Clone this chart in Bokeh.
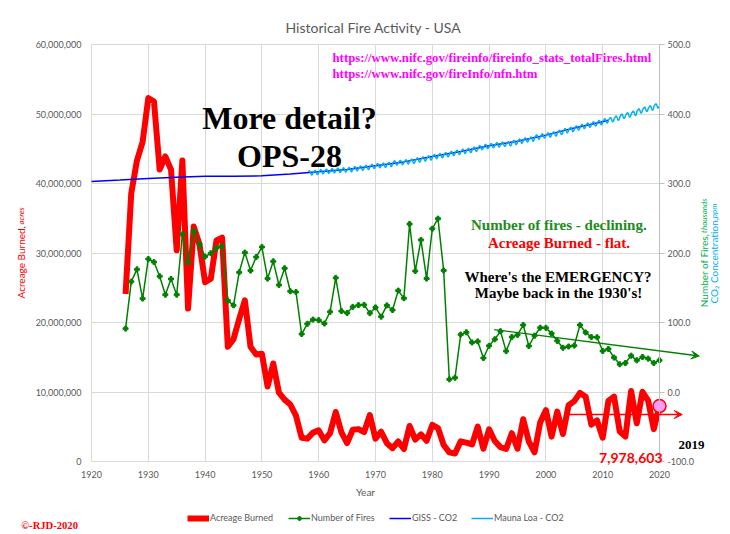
from math import pi
from bokeh.plotting import figure
from bokeh.models import (Range1d, LinearAxis, FixedTicker, NumeralTickFormatter, Label,
                          Arrow, VeeHead, Legend, LegendItem)
from bokeh.embed import file_html
from bokeh.resources import INLINE

# ---------------- data ----------------
years = list(range(1926, 2021))
acres_m = [24.1, 38.6, 43.3, 46.0, 52.3, 51.8, 42.0, 43.9, 42.0, 30.4,
           43.3, 22.0, 33.8, 31.3, 25.8, 26.3, 31.8, 32.2, 16.5, 17.6,
           20.5, 23.2, 16.5, 15.4, 15.5, 10.8, 14.1, 9.9, 8.9, 8.2,
           6.6, 3.41, 3.29, 4.16, 4.48, 3.04, 4.08, 7.12, 4.20, 2.65,
           4.57, 4.66, 4.23, 6.69, 3.28, 4.28, 2.64, 1.92, 2.88, 1.79,
           5.11, 3.15, 3.91, 2.99, 5.26, 4.81, 2.38, 1.32, 1.15, 2.90,
           2.72, 2.45, 5.01, 1.83, 4.62, 2.95, 2.07, 1.80, 4.07, 1.84,
           6.07, 2.86, 1.33, 5.63, 7.39, 3.57, 7.18, 3.96, 8.10, 8.69,
           9.87, 9.33, 5.29, 5.92, 3.42, 8.71, 9.33, 4.32, 3.60, 10.13,
           5.51, 10.03, 8.77, 4.66, 7.978603]
acres = [round(v * 1e6) for v in acres_m]
fires_k = [91.2, 158.8, 176.5, 134.4, 191.4, 187.0, 166.5, 140.0, 162.6, 140.0,
           226.9, 186.6, 231.7, 212.5, 194.8, 199.6, 207.2, 210.1, 131.5, 124.7,
           172.2, 200.6, 174.7, 194.2, 208.6, 163.2, 188.0, 154.0, 178.0, 144.9,
           143.9, 83.4, 98.1, 104.2, 103.4, 98.5, 115.3, 164.2, 116.4, 113.7,
           122.5, 125.0, 125.4, 113.4, 121.7, 108.4, 124.6, 118.0, 145.9, 134.9,
           241.7, 174.0, 218.8, 163.2, 234.9, 249.4, 174.8, 18.2, 20.5, 82.6,
           85.9, 71.3, 72.8, 48.9, 66.5, 75.8, 87.4, 58.8, 79.1, 82.2,
           96.4, 66.2, 81.0, 92.5, 92.3, 84.1, 73.5, 63.6, 65.5, 66.8,
           96.4, 85.7, 79.0, 78.8, 59.0, 61.9, 49.5, 39.9, 41.7, 52.3,
           45.6, 50.4, 48.0, 41.7, 45.6]
giss_years = [1920, 1925, 1930, 1935, 1940, 1945, 1950, 1955, 1960, 1965,
              1970, 1975, 1980, 1985, 1990, 1995, 2000, 2005, 2010, 2011]
giss_co2 = [303.0, 305.0, 307.2, 309.0, 310.5, 310.3, 311.0, 313.5, 316.9, 320.0,
            325.7, 331.1, 338.7, 346.0, 354.2, 360.8, 369.6, 379.8, 389.0, 390.9]
ml_years = list(range(1958, 2020))
ml_annual = [315.3, 315.98, 316.91, 317.64, 318.45, 318.99, 319.62, 320.04, 321.38, 322.16,
             323.04, 324.62, 325.68, 326.32, 327.46, 329.68, 330.19, 331.12, 332.03, 333.84,
             335.41, 336.84, 338.76, 340.12, 341.48, 343.15, 344.85, 346.35, 347.61, 349.31,
             351.69, 353.20, 354.45, 355.70, 356.54, 357.21, 358.96, 360.97, 362.74, 363.88,
             366.84, 368.54, 369.71, 371.32, 373.45, 375.98, 377.70, 379.98, 382.09, 384.02,
             385.83, 387.64, 390.10, 391.85, 394.06, 396.74, 398.81, 401.01, 404.41, 406.76,
             408.72, 411.66]
ml_seasonal = [0.0, 0.6, 1.3, 2.6, 3.1, 2.4, 0.9, -1.2, -2.9, -3.2, -2.0, -0.8]
x_ticks = list(range(1920, 2021, 10))
left_ticks = [0, 10e6, 20e6, 30e6, 40e6, 50e6, 60e6]
right_ticks = [-100, 0, 100, 200, 300, 400, 500]
trend_years = [1990.9, 2027.0]
trend_fires = [89.8, 51.8]
flat_years = [2004.0, 2024.0]
flat_acres = 6.76e6

ml_t, ml_v = [], []
for yr, mean in zip(ml_years, ml_annual):
    for m, s in enumerate(ml_seasonal):
        if yr == 1958 and m < 2:
            continue
        ml_t.append(yr + (m + 0.5) / 12)
        ml_v.append(mean + s)

# ---------------- layout helpers (page pixel -> data) ----------------
W, H = 730, 534
PXL, PXR = 91, 659     # page x of 1920 and 2020
PYB, PYT = 461, 44     # page y of 0 and 60,000,000 (also -100 and 500 on right)

def X(px):
    return 1920 + (px - PXL) * 100 / (PXR - PXL)

def Y(py):
    return (PYB - py) * 60e6 / (PYB - PYT)

def R(py):
    return -100 + (PYB - py) * 600 / (PYB - PYT)

GRAY = "#595959"
SANS = "Lato"
SERIF = "Liberation Serif"

# frame covers the whole canvas so texts/arrows outside the data area are not clipped;
# axes are pinned to the data area with fixed_location
p = figure(frame_width=W, frame_height=H,
           x_range=Range1d(X(0), X(W)), y_range=Range1d(Y(H), Y(0)),
           output_backend="svg", toolbar_location=None,
           min_border=0, min_border_left=0, min_border_right=0, min_border_top=0, min_border_bottom=0,
           background_fill_color="white", border_fill_color="white", outline_line_color=None)
p.extra_y_ranges = {"right": Range1d(R(H), R(0))}

# axes
xa = p.xaxis[0]
xa.fixed_location = 0
xa.ticker = FixedTicker(ticks=x_ticks)
xa.axis_line_color = None
xa.major_tick_line_color = None
xa.major_tick_in = 0
xa.major_tick_out = 0
xa.minor_tick_line_color = None
xa.minor_tick_in = 0
xa.minor_tick_out = 0
xa.major_label_standoff = 9
xa.major_label_text_font = SANS
xa.major_label_text_font_size = "9px"
xa.major_label_text_color = GRAY
xa.axis_label = "Year"
xa.axis_label_text_font = SANS
xa.axis_label_text_font_style = "normal"
xa.axis_label_text_font_size = "10px"
xa.axis_label_text_color = GRAY
xa.axis_label_standoff = 5

ya = p.yaxis[0]
ya.fixed_location = 1920
ya.ticker = FixedTicker(ticks=left_ticks)
ya.formatter = NumeralTickFormatter(format="0,0")
ya.axis_line_color = None
ya.major_tick_line_color = None
ya.major_tick_in = 0
ya.major_tick_out = 0
ya.minor_tick_line_color = None
ya.minor_tick_in = 0
ya.minor_tick_out = 0
ya.major_label_standoff = 10
ya.major_label_text_font = SANS
ya.major_label_text_font_size = "9px"
ya.major_label_text_color = GRAY

ra = LinearAxis(y_range_name="right", ticker=FixedTicker(ticks=right_ticks),
                formatter=NumeralTickFormatter(format="0.0"),
                fixed_location=2020, bounds=(right_ticks[0], right_ticks[-1]))
ra.axis_line_color = "#bfbfbf"
ra.major_tick_line_color = "#bfbfbf"
ra.major_tick_in = 0
ra.major_tick_out = 5
ra.minor_tick_line_color = None
ra.minor_tick_in = 0
ra.minor_tick_out = 0
ra.major_label_standoff = 3
ra.major_label_text_font = SANS
ra.major_label_text_font_size = "9px"
ra.major_label_text_color = GRAY
p.add_layout(ra, "right")

p.xgrid.ticker = FixedTicker(ticks=x_ticks)
p.ygrid.ticker = FixedTicker(ticks=left_ticks)
p.xgrid.cross_bounds = (left_ticks[0], left_ticks[-1])
p.ygrid.cross_bounds = (x_ticks[0], x_ticks[-1])
p.xgrid.grid_line_color = "#d9d9d9"
p.ygrid.grid_line_color = "#d9d9d9"

# series
r_red = p.line(years, acres, line_color="#ff0000", line_width=6, line_join="round")
r_gl = p.line(years, fires_k, y_range_name="right", line_color="#008000", line_width=1.5)
r_gp = p.scatter(years, fires_k, y_range_name="right", marker="plus", size=5, color="#008000")
r_blue = p.line(giss_years, giss_co2, y_range_name="right", line_color="#0000ff", line_width=1.5)
r_cyan = p.line(ml_t, ml_v, y_range_name="right", line_color="#00b0f0", line_width=1.5)

# arrows
p.add_layout(Arrow(x_start=trend_years[0], y_start=trend_fires[0], x_end=trend_years[1], y_end=trend_fires[1],
                   y_range_name="right", line_color="#008000", line_width=1.3,
                   end=VeeHead(size=8, fill_color="#008000", line_color="#008000", line_width=1)))
p.add_layout(Arrow(x_start=flat_years[0], y_start=flat_acres, x_end=flat_years[1], y_end=flat_acres,
                   line_color="#ff0000", line_width=1.3,
                   end=VeeHead(size=8, fill_color="#ff0000", line_color="#ff0000", line_width=1)))

def lab(text, px, py, size, color, font=SERIF, style="bold", align="left",
        baseline="alphabetic", angle=0.0):
    p.add_layout(Label(x=X(px), y=Y(py), text=text,
                       text_font=font, text_font_style=style, text_font_size=size,
                       text_color=color, text_align=align, text_baseline=baseline, angle=angle))

# title
lab("Historical Fire Activity - USA", 373, 27, "14px", GRAY, font=SANS, style="normal", align="center")
# urls
lab("https://www.nifc.gov/fireinfo/fireinfo_stats_totalFires.html", 332, 57, "12.8px", "#ff00ff")
lab("https://www.nifc.gov/fireInfo/nfn.htm", 332, 73, "12.8px", "#ff00ff")
# big text
lab("More detail?", 289, 117, "32px", "black", align="center")
lab("OPS-28", 289, 155, "32px", "black", align="center")
# notes
lab("Number of fires - declining.", 558.5, 224, "15px", "#228b22", align="center")
lab("Acreage Burned - flat.", 558.5, 242, "15px", "#ff0000", align="center")
lab("Where's the EMERGENCY?", 557.5, 276, "15px", "black", align="center")
lab("Maybe back in the 1930's!", 558, 292.5, "15px", "black", align="center")
lab("2019", 678, 444, "13px", "black")
lab(f"{acres[-1]:,}", 662, 457.5, "14px", "#ff0000", font=SANS, style="bold", align="right")
lab("\u00a9-RJD-2020", 20.7, 524.5, "10.6px", "#ff0000")

# highlighted last point
p.scatter([years[-1]], [acres[-1]], marker="circle", size=13, fill_color="#ff99ff",
          line_color="#ff0000", line_width=1.5)

# axis titles (mixed styles)
lab("Acreage Burned, ", 20.5, 298, "10px", "#ff0000", font=SANS, style="normal",
    baseline="middle", angle=pi / 2)
lab("acres", 20.5, 206.7, "8px", "#ff0000", font=SANS, style="italic", align="right",
    baseline="middle", angle=pi / 2)
lab("Number of Fires, ", 703, 306.7, "10px", "#00b050", font=SANS, style="normal",
    baseline="middle", angle=pi / 2)
lab("thousands", 703, 198, "8px", "#00b050", font=SANS, style="italic", align="right",
    baseline="middle", angle=pi / 2)
lab("CO\u2082 Concentration, ", 713, 303, "10px", "#00b0f0", font=SANS, style="normal",
    baseline="middle", angle=pi / 2)
lab("ppm", 713, 203, "8px", "#00b0f0", font=SANS, style="italic", align="right",
    baseline="middle", angle=pi / 2)

# legend (one per entry for exact placement); location is from the frame's bottom-left
def leg(label, rends, left_px):
    lg = Legend(items=[LegendItem(label=label, renderers=rends)],
                location=(left_px, H - 523), orientation="horizontal",
                padding=0, margin=0, border_line_alpha=0, background_fill_alpha=0,
                glyph_width=22, glyph_height=10, label_height=10, label_standoff=1,
                label_text_font=SANS, label_text_font_size="9px", label_text_color=GRAY)
    p.add_layout(lg, "center")

leg("Acreage Burned", [r_red], 187)
leg("Number of Fires", [r_gl, r_gp], 288)
leg("GISS - CO2", [r_blue], 389)
leg("Mauna Loa - CO2", [r_cyan], 471)

open("out.html", "w").write(file_html(p, INLINE))
